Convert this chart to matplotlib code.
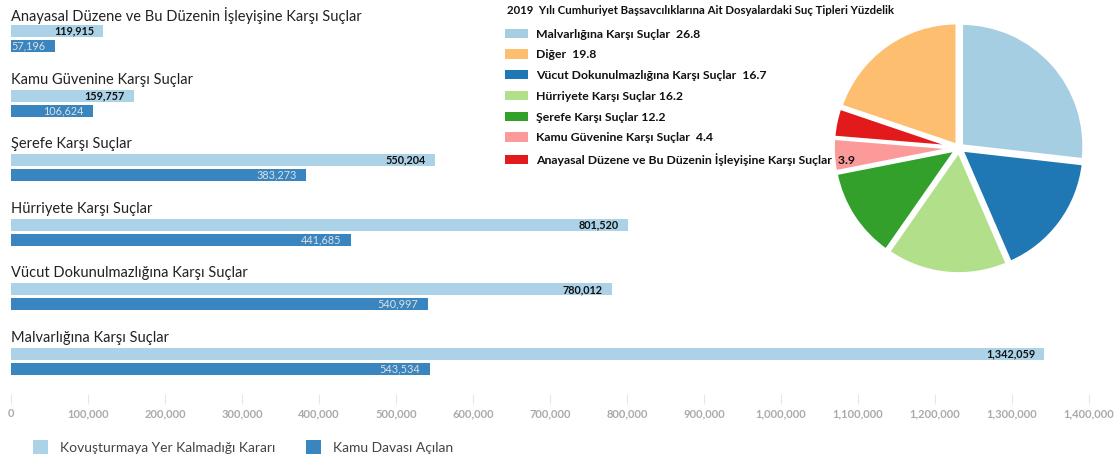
import matplotlib
matplotlib.use("Agg")
import matplotlib.pyplot as plt
from matplotlib.patches import Patch
import numpy as np

plt.rcParams['font.family'] = ['Lato', 'DejaVu Sans']

# ---- data ----
categories = [
    "Anayasal Düzene ve Bu Düzenin İşleyişine Karşı Suçlar",
    "Kamu Güvenine Karşı Suçlar",
    "Şerefe Karşı Suçlar",
    "Hürriyete Karşı Suçlar",
    "Vücut Dokunulmazlığına Karşı Suçlar",
    "Malvarlığına Karşı Suçlar",
]
kyok = [119915, 159757, 550204, 801520, 780012, 1342059]   # Kovuşturmaya Yer Kalmadığı Kararı
kamu = [57196, 106624, 383273, 441685, 540997, 543534]     # Kamu Davası Açılan
series_names = ["Kovuşturmaya Yer Kalmadığı Kararı", "Kamu Davası Açılan"]
xticks = [0, 100000, 200000, 300000, 400000, 500000, 600000, 700000,
          800000, 900000, 1000000, 1100000, 1200000, 1300000, 1400000]

pie_title = "2019  Yılı Cumhuriyet Başsavcılıklarına Ait Dosyalardaki Suç Tipleri Yüzdelik"
pie_names = ["Malvarlığına Karşı Suçlar", "Vücut Dokunulmazlığına Karşı Suçlar",
             "Hürriyete Karşı Suçlar", "Şerefe Karşı Suçlar", "Kamu Güvenine Karşı Suçlar",
             "Anayasal Düzene ve Bu Düzenin İşleyişine Karşı Suçlar", "Diğer"]
pie_values = [26.8, 16.7, 16.2, 12.2, 4.4, 3.9, 19.8]
pie_colors = ["#a6cee3", "#1f78b4", "#b2df8a", "#33a02c", "#fb9a99", "#e31a1c", "#fdbf6f"]
legend_order = [0, 6, 1, 2, 3, 4, 5]
legend_sep = {0: "  ", 6: "  ", 1: "  ", 2: " ", 3: " ", 4: "  ", 5: "  "}

light = "#abd2e6"
dark = "#3885bf"

W, H = 1117, 462
fig = plt.figure(figsize=(W / 100, H / 100), dpi=100)

# ---- bar chart ----
px = 64.6
top_off = 38.5
bottom_px = 394
ax = fig.add_axes([11 / W, (H - bottom_px) / H, (1089 - 11) / W, bottom_px / H])
ax.set_xlim(0, 1400000)
ax.set_ylim((bottom_px - top_off) / px, -top_off / px)
y = np.arange(len(categories))
bh = 12 / px
off = 7.5 / px
ax.barh(y - off, kyok, height=bh, color=light)
ax.barh(y + off, kamu, height=bh, color=dark)
for i, cat in enumerate(categories):
    ax.text(0, y[i] - 23.5 / px, cat, fontsize=10.5, color="#222222", va="center", ha="left")
    ax.text(kyok[i] - 12000, y[i] - off, f"{kyok[i]:,}", fontsize=7.8, fontweight="bold",
            color="#111111", va="center", ha="right")
    ax.text(kamu[i] - 12000, y[i] + off, f"{kamu[i]:,}", fontsize=7.8,
            color="#e0e0e0", va="center", ha="right")
for s in ax.spines.values():
    s.set_visible(False)
ax.set_yticks([])
ax.set_xticks(xticks)
ax.set_xticklabels([f"{t:,}" for t in xticks])
ax.tick_params(axis="x", length=7, width=0.8, color="#e6e6e6", labelsize=8,
               labelcolor="#aaaaaa", pad=3)
for lab in ax.get_xticklabels():
    lab.set_fontweight("bold")

# bottom legend
handles = [Patch(facecolor=light, edgecolor="none"), Patch(facecolor=dark, edgecolor="none")]
fig.legend(handles, series_names, loc="center left", bbox_to_anchor=(20 / W, 1 - 447 / H),
           ncol=2, frameon=False, fontsize=10.0, labelcolor="#444444",
           handlelength=1.15, handleheight=1.15, handletextpad=0.8, columnspacing=2.2)

# ---- pie ----
cx, cy, R = 959, 148, 140
pax = fig.add_axes([(cx - R) / W, (H - cy - R) / H, 2 * R / W, 2 * R / H])
wedges, _ = pax.pie(pie_values, colors=pie_colors, startangle=90, counterclock=False,
                    explode=[0.025] * len(pie_values),
                    wedgeprops=dict(edgecolor="white", linewidth=2.5, joinstyle="round"))
pax.set_xlim(-1.14, 1.14)
pax.set_ylim(-1.14, 1.14)
pax.set_aspect("equal")
pax.axis("off")

fig.text(507 / W, 1 - 10 / H, pie_title, fontsize=8.2, fontweight="bold", color="#111111",
         va="center", ha="left")
ph = [Patch(facecolor=pie_colors[k], edgecolor="none") for k in legend_order]
pl = [f"{pie_names[k]}{legend_sep[k]}{pie_values[k]}" for k in legend_order]
leg = fig.legend(ph, pl, loc="upper left", bbox_to_anchor=(494 / W, 1 - 17.5 / H),
                 frameon=False, prop=dict(size=8.8, weight="bold"),
                 handlelength=1.87, handleheight=0.8, handletextpad=0.7, labelspacing=0.8)
for t in leg.get_texts():
    t.set_color("#111111")

fig.savefig("out.png", dpi=100)
